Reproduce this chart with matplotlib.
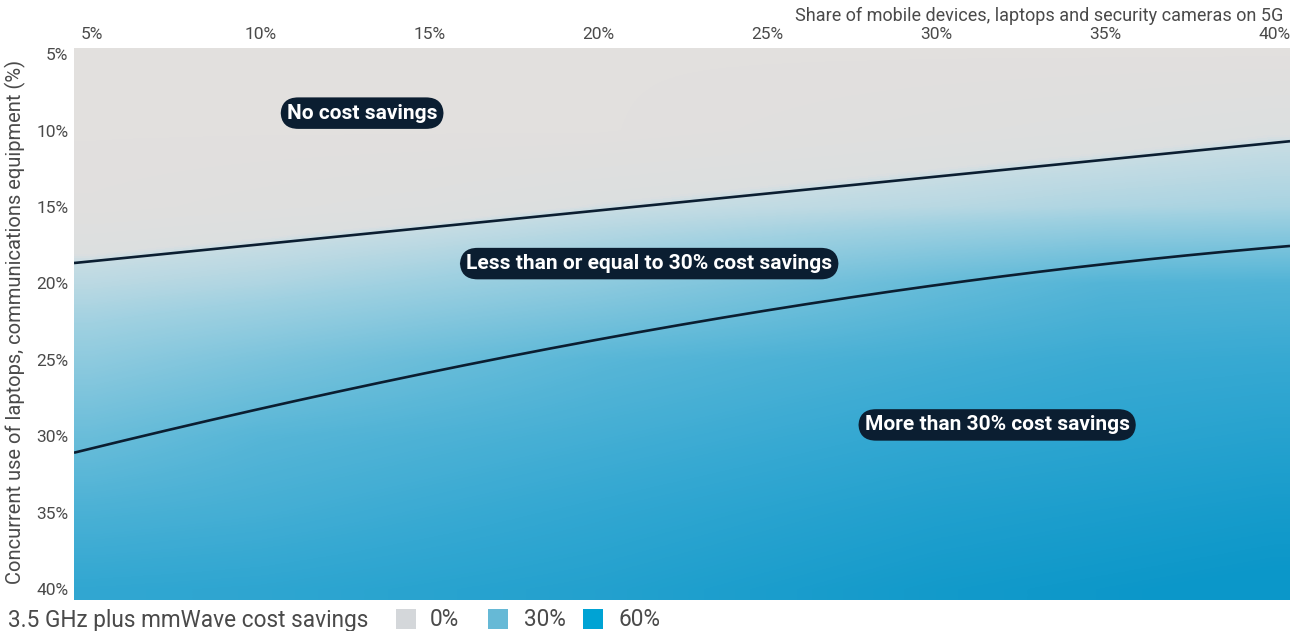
import numpy as np
import matplotlib
matplotlib.use("Agg")
import matplotlib.pyplot as plt
from matplotlib.colors import LinearSegmentedColormap
from matplotlib.patches import Rectangle

# ---- data ----
x_ticks = [5, 10, 15, 20, 25, 30, 35, 40]
y_ticks = [5, 10, 15, 20, 25, 30, 35, 40]
tick_labels = ["5%", "10%", "15%", "20%", "25%", "30%", "35%", "40%"]

# estimated cost savings (%) on the grid: rows = concurrent use 5..40, cols = share 5..40
# (negative = no savings region)
savings = [
    [-10, -10, -10, -10, -10, -10, -10, -10],
    [-10, -10, -10, -10, -8, -6, -4, -1.5],
    [-8, -6, -4, -0.5, 1.7, 4, 6.5, 8],
    [3.3, 6.3, 11, 16, 22.5, 29.5, 35, 36],
    [16, 22, 28, 33.5, 37, 40, 43, 44],
    [28, 34, 37, 40, 43, 46, 48, 50],
    [38, 40, 43, 46, 49, 52, 54, 56],
    [46, 47, 49, 51, 54, 57, 59, 61],
]

# boundary lines (x share %, y concurrent use %)
upper_x = [4.47, 10, 15, 20, 25, 30, 35, 40.47]
upper_y = [18.66, 17.44, 16.33, 15.22, 14.12, 13.01, 11.90, 10.70]
lower_x = [4.47, 10, 15, 20, 25, 30, 35, 40, 40.47]
lower_y = [31.2, 27.9, 25.8, 23.9, 21.8, 20.1, 18.5, 17.7, 17.6]

region_labels = ["No cost savings", "Less than or equal to 30% cost savings",
                 "More than 30% cost savings"]
region_x = [13.0, 21.5, 31.8]
region_y = [8.86, 18.7, 29.25]

legend_title = "3.5 GHz plus mmWave cost savings"
legend_labels = ["0%", "30%", "60%"]
legend_colors = ["#d4d7da", "#66b9d6", "#00a3d4"]

# ---- styling ----
plt.rcParams["font.family"] = ["Roboto", "DejaVu Sans"]
text_gray = "#4a4a4a"
navy = "#0b1e31"

fig = plt.figure(figsize=(13.05, 6.31), dpi=100)
ax = fig.add_axes([74 / 1305, 1 - 600 / 631, (1290 - 74) / 1305, (600 - 48) / 631])

vmin, vmax = -10, 60
stops = [(-10, "#e2e0de"), (-1, "#dcdfe0"), (0, "#c8dde4"), (10, "#a0d1e1"),
         (30, "#64bbd9"), (45, "#34a8d2"), (60, "#0b97c9")]
cmap = LinearSegmentedColormap.from_list(
    "sav", [((v - vmin) / (vmax - vmin), c) for v, c in stops])

xlim = (4.47, 40.47)
ylim = (40.7, 4.6)
ax.imshow(np.array(savings, dtype=float), cmap=cmap, vmin=vmin, vmax=vmax,
          extent=[2.5, 42.5, 42.5, 2.5], origin="upper",
          interpolation="bilinear", aspect="auto")

ux = np.linspace(upper_x[0], upper_x[-1], 200)
ax.plot(ux, np.polyval(np.polyfit(upper_x, upper_y, 2), ux), color=navy, lw=1.9,
        solid_capstyle="butt")
lx = np.linspace(lower_x[0], lower_x[-1], 200)
ax.plot(lx, np.polyval(np.polyfit(lower_x, lower_y, 3), lx), color=navy, lw=1.9,
        solid_capstyle="butt")

for t, xx, yy in zip(region_labels, region_x, region_y):
    ax.text(xx, yy, t, ha="center", va="center", color="white", fontsize=15,
            fontweight="bold",
            bbox=dict(boxstyle="round,pad=0.3,rounding_size=0.85", fc=navy, ec="none"))

ax.set_xlim(*xlim)
ax.set_ylim(*ylim)
ax.xaxis.tick_top()
ax.set_xticks(x_ticks)
ax.set_xticklabels(tick_labels)
ax.set_yticks(y_ticks)
ax.set_yticklabels(tick_labels)
ax.tick_params(length=0, labelsize=12.5, colors=text_gray, pad=4)
for s in ax.spines.values():
    s.set_visible(False)

fig.text(15 / 1305, 1 - 322 / 631, "Concurrent use of laptops, communications equipment (%)",
         rotation=90, ha="center", va="center", fontsize=14.5, color=text_gray)
fig.text(1283 / 1305, 1 - 16 / 631, "Share of mobile devices, laptops and security cameras on 5G",
         ha="right", va="center", fontsize=13, color=text_gray)

# legend
ly = 1 - 620 / 631
fig.text(8 / 1305, ly, legend_title, ha="left", va="center", fontsize=16.3, color=text_gray)
sq_x = [396, 488, 583]
lab_x = [430, 524, 619]
for c, lab, sx, tx in zip(legend_colors, legend_labels, sq_x, lab_x):
    fig.patches.append(Rectangle((sx / 1305, 1 - 629 / 631), 20 / 1305, 20 / 631,
                                 transform=fig.transFigure, fc=c, ec="none"))
    fig.text(tx / 1305, ly, lab, ha="left", va="center", fontsize=16.3, color=text_gray)

fig.savefig("out.png", dpi=100)
